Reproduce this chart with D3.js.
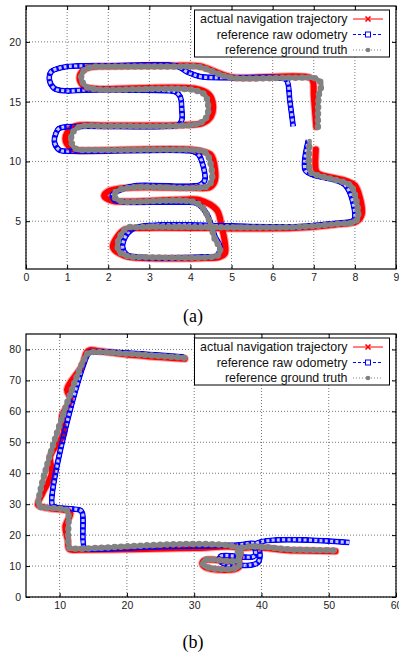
<!DOCTYPE html>
<html>
<head>
<meta charset="utf-8">
<script src="https://cdn.jsdelivr.net/npm/d3@7"></script>
<style>
  html, body { margin: 0; padding: 0; background: #fff; }
  svg { display: block; }
  text { font-family: "Liberation Sans", Arial, sans-serif; }
</style>
</head>
<body>
<div id="chart"></div>
<script>
// series labels
const legendLabels = ["actual navigation trajectory", "reference raw odometry", "reference ground truth"];

// panel (a) ticks
const xTicksA = [0, 1, 2, 3, 4, 5, 6, 7, 8, 9];
const yTicksA = [5, 10, 15, 20];

// panel (b) ticks
const xTicksB = [10, 20, 30, 40, 50, 60];
const yTicksB = [0, 10, 20, 30, 40, 50, 60, 70, 80];

// panel (a) trajectories [x, y]
const actualA = [[7.06,12.9],[7.0,15.5],[6.98,16.7],[6.9,17.02],[5.0,17.05],[4.64,17.45],[4.23,17.96],[3.5,18.0],[2.0,17.96],[1.6,17.92],[1.4,17.65],[1.3,16.96],[1.42,16.26],[1.7,16.08],[4.1,16.1],[4.45,15.6],[4.55,14.72],[4.5,13.75],[4.3,13.2],[3.83,13.05],[2.0,13.0],[1.2,12.95],[1.0,12.4],[0.97,11.65],[1.15,11.0],[1.5,10.92],[4.1,10.96],[4.48,10.6],[4.55,10.2],[4.6,8.45],[4.48,7.85],[3.99,7.8],[2.5,7.8],[2.0,7.5],[1.9,7.1],[2.1,6.7],[2.5,6.65],[3.9,6.82],[4.23,6.77],[4.64,5.94],[4.76,4.54],[4.84,3.15],[4.84,2.31],[4.7,2.0],[4.39,1.92],[2.7,1.93],[2.4,2.1],[2.15,2.6],[2.11,2.87],[2.2,3.6],[2.4,4.3],[2.7,4.42],[6.5,4.42],[7.5,4.7],[8.05,5.0],[8.17,5.6],[8.12,7.0],[8.0,8.0],[7.8,8.35],[7.1,9.0],[7.05,9.3],[7.05,11.0]];
const odomA = [[6.5,12.9],[6.42,15.0],[6.34,16.8],[6.2,16.98],[5.0,17.0],[4.23,17.1],[3.91,17.5],[3.66,17.98],[2.0,17.99],[1.05,17.95],[0.81,17.8],[0.61,17.5],[0.57,16.8],[0.69,16.1],[0.97,15.9],[1.5,15.98],[3.5,15.9],[3.62,15.84],[3.75,15.42],[3.79,14.3],[3.79,13.47],[3.71,13.05],[3.3,12.92],[1.0,12.9],[0.8,12.75],[0.73,12.36],[0.69,11.65],[0.81,10.96],[1.1,10.85],[4.0,10.88],[4.15,10.7],[4.23,10.4],[4.35,8.45],[4.23,8.03],[2.7,7.98],[2.35,7.7],[2.1,7.2],[2.15,6.75],[2.45,6.6],[3.9,6.6],[4.15,6.5],[4.39,5.66],[4.6,3.7],[4.72,2.87],[4.65,2.15],[4.3,2.0],[2.7,2.0],[2.45,2.2],[2.35,2.87],[2.47,3.99],[2.7,4.5],[6.5,4.52],[7.5,4.8],[7.96,5.04],[8.0,5.38],[7.76,8.03],[6.99,8.87],[6.79,9.28],[6.87,11.8]];
const truthA = [[7.1,12.9],[7.12,15.5],[7.18,16.5],[7.05,16.92],[6.5,17.0],[5.0,17.0],[4.64,17.38],[4.23,17.9],[3.5,17.93],[2.0,17.93],[1.6,17.9],[1.42,17.65],[1.34,16.96],[1.46,16.26],[1.7,16.04],[4.07,15.98],[4.35,15.56],[4.43,14.72],[4.4,13.75],[4.23,13.2],[3.83,13.0],[2.0,12.95],[1.3,12.9],[1.13,12.36],[1.1,11.65],[1.22,11.04],[1.5,10.96],[4.1,10.96],[4.35,10.8],[4.45,10.3],[4.52,8.45],[4.39,7.89],[3.99,7.78],[2.5,7.8],[2.19,7.47],[2.15,7.05],[2.35,6.63],[2.6,6.62],[4.07,6.62],[4.31,6.08],[4.48,4.82],[4.6,3.43],[4.72,2.73],[4.68,2.17],[4.39,1.98],[2.7,2.0],[2.51,2.03],[2.27,2.45],[2.23,3.15],[2.43,4.4],[2.7,4.5],[6.5,4.5],[7.56,4.77],[8.0,4.96],[8.08,5.38],[7.92,7.9],[7.8,8.17],[7.07,8.87],[6.92,9.14],[6.9,11.7]];

// panel (b) trajectories [x, y]
const actualB = [[28.6,77.0],[20,78.4],[15.5,79.6],[14.5,79.8],[14.0,79.0],[13.3,74.6],[11.1,67.1],[11.6,63.8],[10.35,58.4],[10.6,53.0],[8.6,45.5],[8.85,40.1],[7.46,33.6],[6.77,29.8],[8.0,28.8],[11.0,28.0],[11.6,27.1],[10.85,22.8],[11.2,18.5],[11.45,15.4],[13,15.3],[20,15.4],[30,15.8],[36.6,15.6],[36.6,12.0],[31.7,12.0],[31.2,11.0],[31.7,9.6],[36.6,9.6],[36.7,15.2],[45,15.0],[51,14.8]];
const odomB = [[28.5,77.6],[20,78.9],[14.8,79.2],[14.3,78.8],[8.9,29.8],[9.5,29.0],[13.1,28.0],[13.4,27.0],[13.7,15.8],[14.5,15.5],[25,16.2],[36,16.7],[39.3,16.9],[39.5,11.2],[34.0,11.2],[33.9,13.1],[39.0,13.3],[39.2,17.2],[53.1,17.6]];
const truthB = [[28.5,77.3],[20,78.6],[14.6,79.1],[14.1,78.6],[6.9,29.5],[7.5,29.0],[11.1,28.0],[11.3,27.1],[11.45,15.8],[12.1,15.6],[36.6,15.6],[36.6,12.0],[31.7,12.0],[31.3,11.0],[31.7,9.8],[36.6,9.8],[36.7,15.4],[45,15.3],[50.9,15.0]];

const svg = d3.select("#chart").append("svg")
  .attr("width", 399)
  .attr("height", 656);

const defs = svg.append("defs");

function drawPanel(p) {
  const x = d3.scaleLinear().domain(p.xDomain).range([p.left, p.right]);
  const y = d3.scaleLinear().domain(p.yDomain).range([p.bottom, p.top]);
  const g = svg.append("g");

  // grid
  const grid = g.append("g")
    .attr("stroke", "#777")
    .attr("stroke-width", 1)
    .attr("stroke-dasharray", "1,2");
  grid.selectAll(".gx").data(p.xTicks).join("line")
    .attr("x1", d => x(d)).attr("x2", d => x(d))
    .attr("y1", p.top).attr("y2", p.bottom);
  grid.selectAll(".gy").data(p.yTicks).join("line")
    .attr("y1", d => y(d)).attr("y2", d => y(d))
    .attr("x1", p.left).attr("x2", p.right);

  // clip
  defs.append("clipPath").attr("id", "clip" + p.id)
    .append("rect")
    .attr("x", p.left).attr("y", p.top)
    .attr("width", p.right - p.left).attr("height", p.bottom - p.top);

  const line = d3.line()
    .x(d => x(d[0]))
    .y(d => y(d[1]))
    .curve(d3.curveCatmullRom.alpha(0.5));

  const plot = g.append("g").attr("clip-path", `url(#clip${p.id})`);

  // actual navigation trajectory (red)
  plot.append("path").attr("d", line(p.actual))
    .attr("fill", "none").attr("stroke", "#ff3030").attr("stroke-opacity", 0.45)
    .attr("stroke-width", 8).attr("stroke-linejoin", "round").attr("stroke-linecap", "round");
  plot.append("path").attr("d", line(p.actual))
    .attr("fill", "none").attr("stroke", "#ff0000")
    .attr("stroke-width", 6).attr("stroke-linejoin", "round").attr("stroke-linecap", "round");

  // reference raw odometry (blue open squares)
  const mask = defs.append("mask").attr("id", "mask" + p.id)
    .attr("maskUnits", "userSpaceOnUse")
    .attr("x", 0).attr("y", 0).attr("width", 399).attr("height", 656);
  mask.append("path").attr("d", line(p.odom))
    .attr("fill", "none").attr("stroke", "#fff").attr("stroke-width", 6)
    .attr("stroke-linejoin", "round");
  mask.append("path").attr("d", line(p.odom))
    .attr("fill", "none").attr("stroke", "#000").attr("stroke-width", 3.1)
    .attr("stroke-dasharray", "3,2.3").attr("stroke-linejoin", "round");
  plot.append("path").attr("d", line(p.odom))
    .attr("fill", "none").attr("stroke", "#0000ff").attr("stroke-opacity", 0.22)
    .attr("stroke-width", 4);
  plot.append("path").attr("d", line(p.odom))
    .attr("fill", "none").attr("stroke", "#0000ff")
    .attr("stroke-width", 6).attr("stroke-linejoin", "round")
    .attr("mask", `url(#mask${p.id})`);

  // reference ground truth (gray dots)
  plot.append("path").attr("d", line(p.truth))
    .attr("fill", "none").attr("stroke", "#8a8a8a")
    .attr("stroke-width", 4.5).attr("stroke-linejoin", "round").attr("stroke-linecap", "round");
  plot.append("path").attr("d", line(p.truth))
    .attr("fill", "none").attr("stroke", "#828282")
    .attr("stroke-width", 6.5).attr("stroke-linecap", "round")
    .attr("stroke-dasharray", "0,6.5");

  // axes with inward ticks, mirrored
  const fmt = d3.format("d");
  const styleAxis = sel => {
    sel.select(".domain").remove();
    sel.selectAll("line").attr("stroke", "#000");
    sel.selectAll("text").attr("fill", "#222").style("font-size", "10.5px");
  };
  g.append("g").attr("transform", `translate(0,${p.bottom})`)
    .call(d3.axisBottom(x).tickValues(p.xTicks).tickFormat(fmt).tickSize(-4).tickPadding(5))
    .call(styleAxis);
  g.append("g").attr("transform", `translate(0,${p.top})`)
    .call(d3.axisTop(x).tickValues(p.xTicks).tickFormat("").tickSize(-4))
    .call(styleAxis);
  g.append("g").attr("transform", `translate(${p.left},0)`)
    .call(d3.axisLeft(y).tickValues(p.yTicks).tickFormat(fmt).tickSize(-4).tickPadding(5))
    .call(styleAxis);
  g.append("g").attr("transform", `translate(${p.right},0)`)
    .call(d3.axisRight(y).tickValues(p.yTicks).tickFormat("").tickSize(-4))
    .call(styleAxis);

  // frame
  g.append("rect")
    .attr("x", p.left).attr("y", p.top)
    .attr("width", p.right - p.left).attr("height", p.bottom - p.top)
    .attr("fill", "none").attr("stroke", "#000").attr("stroke-width", 1.2);

  // legend
  const lg = g.append("g");
  lg.append("rect")
    .attr("x", 194.5).attr("y", p.top + 4)
    .attr("width", 195).attr("height", 47)
    .attr("fill", "#fff").attr("stroke", "#000").attr("stroke-width", 1);
  const rows = lg.selectAll(".row").data(legendLabels).join("g")
    .attr("transform", (d, i) => `translate(0,${p.top + 13 + i * 15.5})`);
  rows.append("text")
    .attr("x", 347.5).attr("dy", "0.35em")
    .attr("text-anchor", "end")
    .style("font-size", "12.4px")
    .attr("fill", "#111")
    .text(d => d);
  rows.append("line")
    .attr("x1", 353).attr("x2", 383)
    .attr("stroke", (d, i) => ["#ff0000", "#0000ff", "#808080"][i])
    .attr("stroke-width", 1)
    .attr("stroke-dasharray", (d, i) => [null, "3,2", "1,2"][i]);
  rows.filter((d, i) => i === 0).append("path")
    .attr("d", "M365.5,-2.5L370.5,2.5M365.5,2.5L370.5,-2.5")
    .attr("stroke", "#ff0000").attr("stroke-width", 1.6);
  rows.filter((d, i) => i === 1).append("rect")
    .attr("x", 365.5).attr("y", -2.5).attr("width", 5).attr("height", 5)
    .attr("fill", "#fff").attr("stroke", "#0000ff").attr("stroke-width", 1);
  rows.filter((d, i) => i === 2).append("circle")
    .attr("cx", 368).attr("r", 2.3).attr("fill", "#808080");

  // caption
  svg.append("text")
    .attr("x", 193).attr("y", p.captionY)
    .attr("text-anchor", "middle")
    .style("font-family", "'Liberation Serif', 'Times New Roman', serif")
    .style("font-size", "18px")
    .attr("fill", "#000")
    .text(p.caption);
}

drawPanel({
  id: "a", left: 26, right: 396, top: 6, bottom: 269,
  xDomain: [0, 9], yDomain: [1, 23],
  xTicks: xTicksA, yTicks: yTicksA,
  actual: actualA, odom: odomA, truth: truthA,
  caption: "(a)", captionY: 322
});

drawPanel({
  id: "b", left: 26, right: 396, top: 334, bottom: 597,
  xDomain: [5, 60], yDomain: [0, 85],
  xTicks: xTicksB, yTicks: yTicksB,
  actual: actualB, odom: odomB, truth: truthB,
  caption: "(b)", captionY: 648
});
</script>
</body>
</html>
